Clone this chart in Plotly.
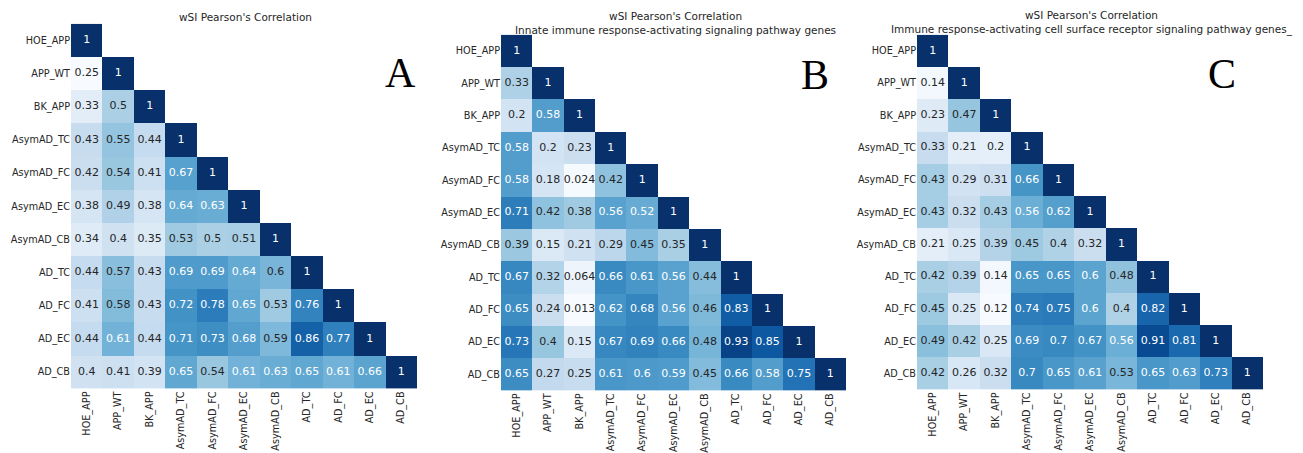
import plotly.graph_objects as go

# Sample / region labels (rows top-to-bottom, columns left-to-right)
labels = ["HOE_APP", "APP_WT", "BK_APP", "AsymAD_TC", "AsymAD_FC", "AsymAD_EC",
          "AsymAD_CB", "AD_TC", "AD_FC", "AD_EC", "AD_CB"]

# Lower-triangle Pearson correlations, panel A: all genes
corr_all = [
    [1],
    [0.25, 1],
    [0.33, 0.5, 1],
    [0.43, 0.55, 0.44, 1],
    [0.42, 0.54, 0.41, 0.67, 1],
    [0.38, 0.49, 0.38, 0.64, 0.63, 1],
    [0.34, 0.4, 0.35, 0.53, 0.5, 0.51, 1],
    [0.44, 0.57, 0.43, 0.69, 0.69, 0.64, 0.6, 1],
    [0.41, 0.58, 0.43, 0.72, 0.78, 0.65, 0.53, 0.76, 1],
    [0.44, 0.61, 0.44, 0.71, 0.73, 0.68, 0.59, 0.86, 0.77, 1],
    [0.4, 0.41, 0.39, 0.65, 0.54, 0.61, 0.63, 0.65, 0.61, 0.66, 1],
]

# Panel B: innate immune response-activating signaling pathway genes
corr_innate = [
    [1],
    [0.33, 1],
    [0.2, 0.58, 1],
    [0.58, 0.2, 0.23, 1],
    [0.58, 0.18, 0.024, 0.42, 1],
    [0.71, 0.42, 0.38, 0.56, 0.52, 1],
    [0.39, 0.15, 0.21, 0.29, 0.45, 0.35, 1],
    [0.67, 0.32, 0.064, 0.66, 0.61, 0.56, 0.44, 1],
    [0.65, 0.24, 0.013, 0.62, 0.68, 0.56, 0.46, 0.83, 1],
    [0.73, 0.4, 0.15, 0.67, 0.69, 0.66, 0.48, 0.93, 0.85, 1],
    [0.65, 0.27, 0.25, 0.61, 0.6, 0.59, 0.45, 0.66, 0.58, 0.75, 1],
]

# Panel C: immune response-activating cell surface receptor signaling pathway genes
corr_receptor = [
    [1],
    [0.14, 1],
    [0.23, 0.47, 1],
    [0.33, 0.21, 0.2, 1],
    [0.43, 0.29, 0.31, 0.66, 1],
    [0.43, 0.32, 0.43, 0.56, 0.62, 1],
    [0.21, 0.25, 0.39, 0.45, 0.4, 0.32, 1],
    [0.42, 0.39, 0.14, 0.65, 0.65, 0.6, 0.48, 1],
    [0.45, 0.25, 0.12, 0.74, 0.75, 0.6, 0.4, 0.82, 1],
    [0.49, 0.42, 0.25, 0.69, 0.7, 0.67, 0.56, 0.91, 0.81, 1],
    [0.42, 0.26, 0.32, 0.7, 0.65, 0.61, 0.53, 0.65, 0.63, 0.73, 1],
]

titles = [
    "wSI Pearson's Correlation",
    "wSI Pearson's Correlation<br>Innate immune response-activating signaling pathway genes",
    "wSI Pearson's Correlation<br>Immune response-activating cell surface receptor signaling pathway genes_",
]
panel_letters = ["A", "B", "C"]

W, H = 1303, 453
# heatmap boxes in pixels: (left, top, right, bottom)
boxes = [(71, 24, 417, 392), (501, 35, 846, 394), (917, 35, 1263, 393)]
title_pos = [(246, 17), (675, 23), (1092, 23)]
letter_pos = [(400, 74), (815, 76), (1222, 75)]

# ColorBrewer Blues (same stops as matplotlib "Blues")
blues_hex = ["#f7fbff", "#deebf7", "#c6dbef", "#9ecae1", "#6baed6",
             "#4292c6", "#2171b5", "#08519c", "#08306b"]
blues_rgb = [tuple(int(h[i:i + 2], 16) for i in (1, 3, 5)) for h in blues_hex]
colorscale = [[i / (len(blues_hex) - 1), c] for i, c in enumerate(blues_hex)]


def blues_at(t):
    t = min(max(t, 0.0), 1.0)
    pos = t * (len(blues_rgb) - 1)
    i = min(int(pos), len(blues_rgb) - 2)
    f = pos - i
    a, b = blues_rgb[i], blues_rgb[i + 1]
    return tuple(a[k] + (b[k] - a[k]) * f for k in range(3))


def luminance(rgb):
    out = []
    for c in rgb:
        c = c / 255.0
        out.append(c / 12.92 if c <= 0.03928 else ((c + 0.055) / 1.055) ** 2.4)
    return 0.2126 * out[0] + 0.7152 * out[1] + 0.0722 * out[2]


TEXT = "#262626"
FONT = "DejaVu Sans"

fig = go.Figure()
layout_axes = {}
annotations = []

for p, rows in enumerate([corr_all, corr_innate, corr_receptor]):
    n = len(labels)
    z = [[rows[r][c] if c <= r else None for c in range(n)] for r in range(n)]
    vals = [v for row in rows for v in row]
    vmin, vmax = min(vals), max(vals)
    xa = "x" if p == 0 else f"x{p + 1}"
    ya = "y" if p == 0 else f"y{p + 1}"

    fig.add_trace(go.Heatmap(
        z=z, x=list(range(n)), y=list(range(n)),
        colorscale=colorscale, zmin=vmin, zmax=vmax,
        showscale=False, xaxis=xa, yaxis=ya, hoverongaps=False,
    ))

    # cell labels: dark text on light cells, white text on dark cells
    tx, ty, tt, tc = [], [], [], []
    for r in range(n):
        for c in range(r + 1):
            v = rows[r][c]
            tx.append(c)
            ty.append(r)
            tt.append("{:.2g}".format(v))
            col = blues_at((v - vmin) / (vmax - vmin))
            tc.append(TEXT if luminance(col) > 0.408 else "white")
    fig.add_trace(go.Scatter(
        x=tx, y=ty, text=tt, mode="text", xaxis=xa, yaxis=ya,
        textfont=dict(family=FONT, size=11, color=tc),
        textposition="middle center", hoverinfo="skip", showlegend=False,
    ))

    left, top, right, bottom = boxes[p]
    key_x = "xaxis" if p == 0 else f"xaxis{p + 1}"
    key_y = "yaxis" if p == 0 else f"yaxis{p + 1}"
    layout_axes[key_x] = dict(
        domain=[left / W, right / W], range=[-0.5, n - 0.5],
        tickmode="array", tickvals=list(range(n)), ticktext=labels,
        tickangle=-90, showgrid=False, zeroline=False, showline=False,
        ticks="", tickfont=dict(family=FONT, size=9.7, color=TEXT),
        anchor=ya, fixedrange=True,
    )
    layout_axes[key_y] = dict(
        domain=[1 - bottom / H, 1 - top / H], range=[n - 0.5, -0.5],
        tickmode="array", tickvals=list(range(n)), ticktext=labels,
        showgrid=False, zeroline=False, showline=False,
        ticks="", tickfont=dict(family=FONT, size=9.7, color=TEXT),
        anchor=xa, fixedrange=True,
    )

    annotations.append(dict(
        x=title_pos[p][0] / W, y=1 - title_pos[p][1] / H, xref="paper", yref="paper",
        text=titles[p], showarrow=False, xanchor="center", yanchor="middle",
        font=dict(family=FONT, size=10.5, color=TEXT), align="center",
    ))
    annotations.append(dict(
        x=letter_pos[p][0] / W, y=1 - letter_pos[p][1] / H, xref="paper", yref="paper",
        text=panel_letters[p], showarrow=False, xanchor="center", yanchor="middle",
        font=dict(family="Liberation Serif", size=42, color="black"),
    ))

fig.update_layout(
    width=W, height=H, margin=dict(l=0, r=0, t=0, b=0),
    paper_bgcolor="white", plot_bgcolor="white",
    showlegend=False, annotations=annotations, **layout_axes,
)

fig.write_html("out.html", config={"displayModeBar": False})
